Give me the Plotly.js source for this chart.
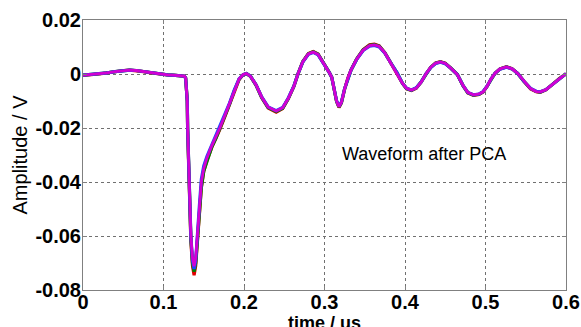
<!DOCTYPE html>
<html>
<head>
<meta charset="utf-8">
<script src="https://cdn.plot.ly/plotly-3.0.1.min.js"></script>
<style>html,body{margin:0;padding:0;background:#fff;}#chart{width:581px;height:327px;}</style>
</head>
<body>
<div id="chart"></div>
<script>
// time axis (us)
const time = [0, 0.01, 0.02, 0.03, 0.04, 0.05, 0.058, 0.066, 0.075, 0.085, 0.095, 0.105, 0.115, 0.122, 0.126,
  0.1275, 0.1295, 0.130, 0.132, 0.134, 0.136, 0.138, 0.140, 0.142, 0.1445, 0.147, 0.150, 0.154, 0.160, 0.165,
  0.170, 0.176, 0.182, 0.188, 0.194, 0.199, 0.203, 0.208, 0.215, 0.222, 0.230, 0.240, 0.248, 0.255, 0.262,
  0.267, 0.273, 0.280, 0.286, 0.292, 0.298, 0.302, 0.306, 0.309, 0.312, 0.315, 0.318, 0.321, 0.325, 0.329,
  0.333, 0.340, 0.348, 0.356, 0.362, 0.368, 0.375, 0.383, 0.390, 0.397, 0.402, 0.408, 0.414, 0.420, 0.426,
  0.432, 0.438, 0.444, 0.450, 0.457, 0.465, 0.472, 0.478, 0.485, 0.492, 0.497, 0.502, 0.507, 0.512, 0.518,
  0.526, 0.533, 0.540, 0.548, 0.556, 0.563, 0.568, 0.575, 0.583, 0.592, 0.600];

// waveforms (V)
const waveMagenta = [-0.0004, -0.0002, 0.0000, 0.0004, 0.0009, 0.0013, 0.0014, 0.0013, 0.0009, 0.0004, 0.0000, -0.0003, -0.0005, -0.0006, -0.0008,
  -0.0015, -0.010, -0.020, -0.040, -0.060, -0.068, -0.0712, -0.068, -0.060, -0.050, -0.040, -0.035, -0.031, -0.0265, -0.0235,
  -0.0200, -0.0155, -0.0110, -0.0060, -0.0018, -0.0002, 0.0002, -0.0008, -0.0040, -0.0085, -0.0122, -0.0137, -0.0125, -0.0090, -0.0045,
  0.0000, 0.0045, 0.0074, 0.0081, 0.0072, 0.0045, 0.0022, 0.0005, -0.0012, -0.0055, -0.0100, -0.0121, -0.0105, -0.0055, -0.0015,
  0.0015, 0.0055, 0.0088, 0.0105, 0.0108, 0.0102, 0.0078, 0.0038, 0.0005, -0.0035, -0.0053, -0.0059, -0.0052, -0.0030, 0.0000,
  0.0025, 0.0040, 0.0045, 0.0039, 0.0022, -0.0002, -0.0042, -0.0068, -0.0077, -0.0074, -0.0066, -0.0045, -0.0018, 0.0003, 0.0019,
  0.0026, 0.0019, 0.0002, -0.0028, -0.0054, -0.0065, -0.0066, -0.0058, -0.0038, -0.0016, 0.0001];

const waveRed = [-0.0005, -0.0003, 0.0000, 0.0004, 0.0009, 0.0013, 0.0014, 0.0013, 0.0009, 0.0004, 0.0000, -0.0003, -0.0005, -0.0006, -0.0008,
  -0.0015, -0.010, -0.021, -0.041, -0.062, -0.071, -0.0745, -0.071, -0.062, -0.052, -0.042, -0.036, -0.032, -0.0272, -0.0240,
  -0.0205, -0.0160, -0.0114, -0.0063, -0.0020, -0.0003, 0.0001, -0.0009, -0.0042, -0.0088, -0.0126, -0.0141, -0.0128, -0.0092, -0.0046,
  0.0000, 0.0046, 0.0076, 0.0083, 0.0074, 0.0046, 0.0022, 0.0005, -0.0012, -0.0056, -0.0102, -0.0124, -0.0107, -0.0056, -0.0015,
  0.0015, 0.0056, 0.0090, 0.0108, 0.0111, 0.0104, 0.0079, 0.0038, 0.0005, -0.0036, -0.0055, -0.0061, -0.0053, -0.0030, 0.0000,
  0.0025, 0.0041, 0.0046, 0.0040, 0.0022, -0.0002, -0.0043, -0.0070, -0.0079, -0.0076, -0.0067, -0.0046, -0.0018, 0.0003, 0.0019,
  0.0027, 0.0020, 0.0002, -0.0029, -0.0055, -0.0066, -0.0068, -0.0059, -0.0038, -0.0016, 0.0001];

const waveGreen = [-0.0004, -0.0002, 0.0000, 0.0004, 0.0009, 0.0013, 0.0014, 0.0013, 0.0009, 0.0004, 0.0000, -0.0003, -0.0005, -0.0006, -0.0008,
  -0.0015, -0.010, -0.020, -0.041, -0.061, -0.070, -0.0732, -0.070, -0.061, -0.052, -0.042, -0.036, -0.032, -0.0270, -0.0239,
  -0.0203, -0.0158, -0.0112, -0.0061, -0.0019, -0.0002, 0.0002, -0.0008, -0.0041, -0.0087, -0.0124, -0.0139, -0.0127, -0.0091, -0.0045,
  0.0000, 0.0045, 0.0075, 0.0082, 0.0073, 0.0045, 0.0022, 0.0005, -0.0012, -0.0055, -0.0101, -0.0122, -0.0106, -0.0055, -0.0015,
  0.0015, 0.0055, 0.0089, 0.0106, 0.0109, 0.0103, 0.0078, 0.0038, 0.0005, -0.0035, -0.0054, -0.0060, -0.0052, -0.0030, 0.0000,
  0.0025, 0.0040, 0.0045, 0.0039, 0.0022, -0.0002, -0.0042, -0.0069, -0.0078, -0.0075, -0.0066, -0.0045, -0.0018, 0.0003, 0.0019,
  0.0026, 0.0019, 0.0002, -0.0028, -0.0054, -0.0065, -0.0067, -0.0058, -0.0038, -0.0016, 0.0001];

const waveBlue = [-0.0004, -0.0002, 0.0000, 0.0004, 0.0009, 0.0013, 0.0014, 0.0013, 0.0009, 0.0004, 0.0000, -0.0003, -0.0005, -0.0006, -0.0008,
  -0.0015, -0.010, -0.020, -0.040, -0.060, -0.069, -0.0722, -0.069, -0.059, -0.049, -0.039, -0.034, -0.0305, -0.0262, -0.0232,
  -0.0198, -0.0153, -0.0108, -0.0059, -0.0017, -0.0002, 0.0002, -0.0008, -0.0040, -0.0085, -0.0122, -0.0136, -0.0124, -0.0089, -0.0044,
  0.0000, 0.0044, 0.0073, 0.0080, 0.0071, 0.0044, 0.0021, 0.0005, -0.0012, -0.0054, -0.0099, -0.0120, -0.0104, -0.0054, -0.0015,
  0.0015, 0.0054, 0.0087, 0.0103, 0.0106, 0.0100, 0.0077, 0.0038, 0.0005, -0.0035, -0.0053, -0.0059, -0.0051, -0.0030, 0.0000,
  0.0024, 0.0039, 0.0044, 0.0038, 0.0021, -0.0002, -0.0042, -0.0068, -0.0077, -0.0074, -0.0065, -0.0045, -0.0018, 0.0003, 0.0018,
  0.0025, 0.0019, 0.0002, -0.0028, -0.0053, -0.0064, -0.0066, -0.0058, -0.0038, -0.0016, 0.0001];

const xTickVals = [0, 0.1, 0.2, 0.3, 0.4, 0.5, 0.6];
const xTickText = ['0', '0.1', '0.2', '0.3', '0.4', '0.5', '0.6'];
const yTickVals = [0.02, 0, -0.02, -0.04, -0.06, -0.08];
const yTickText = ['0.02', '0', '-0.02', '-0.04', '-0.06', '-0.08'];

const mk = (y, color, w) => ({x: time, y: y, type: 'scatter', mode: 'lines',
  line: {color: color, width: w}, hoverinfo: 'skip', showlegend: false});

const traces = [
  mk(waveRed, '#e00000', 3.2),
  mk(waveGreen, '#008000', 3.2),
  mk(waveBlue, '#2040ff', 3.2),
  mk(waveMagenta, '#d200d2', 2.8)
];

const FAM = 'Liberation Sans, Arial, sans-serif';
const tickFont = {family: FAM, size: 20, color: '#000', weight: 700};

const layout = {
  width: 581, height: 327,
  margin: {l: 83, r: 15, t: 20, b: 37},
  paper_bgcolor: '#fff', plot_bgcolor: '#fff',
  xaxis: {
    range: [0, 0.6], tickmode: 'array', tickvals: xTickVals, ticktext: xTickText,
    showgrid: true, gridcolor: '#707070', griddash: 'dot', gridwidth: 1,
    zeroline: false, showline: true, linecolor: '#808080', linewidth: 1, mirror: 'ticks',
    ticks: 'inside', ticklen: 4, tickcolor: '#808080',
    tickfont: tickFont, automargin: false, ticklabelstandoff: -6
  },
  yaxis: {
    range: [-0.08, 0.02], tickmode: 'array', tickvals: yTickVals, ticktext: yTickText,
    showgrid: true, gridcolor: '#707070', griddash: 'dot', gridwidth: 1,
    zeroline: false, showline: true, linecolor: '#808080', linewidth: 1, mirror: 'ticks',
    ticks: 'inside', ticklen: 4, tickcolor: '#808080',
    tickfont: tickFont, automargin: false, ticklabelstandoff: -3,
    title: {text: 'Amplitude / V', font: {family: FAM, size: 20, color: '#000'}, standoff: 2}
  },
  annotations: [
    {
      x: 0.319, y: -0.0295, xref: 'x', yref: 'y', xanchor: 'left', yanchor: 'middle',
      text: 'Waveform after PCA', showarrow: false,
      font: {family: FAM, size: 18, color: '#000'}
    },
    {
      x: 0.5, y: -0.122, xref: 'paper', yref: 'paper', xanchor: 'center', yanchor: 'middle',
      text: 'time / us', showarrow: false,
      font: {family: FAM, size: 18, color: '#000', weight: 700}
    }
  ]
};

Plotly.newPlot('chart', traces, layout, {staticPlot: true, displayModeBar: false});
</script>
</body>
</html>
